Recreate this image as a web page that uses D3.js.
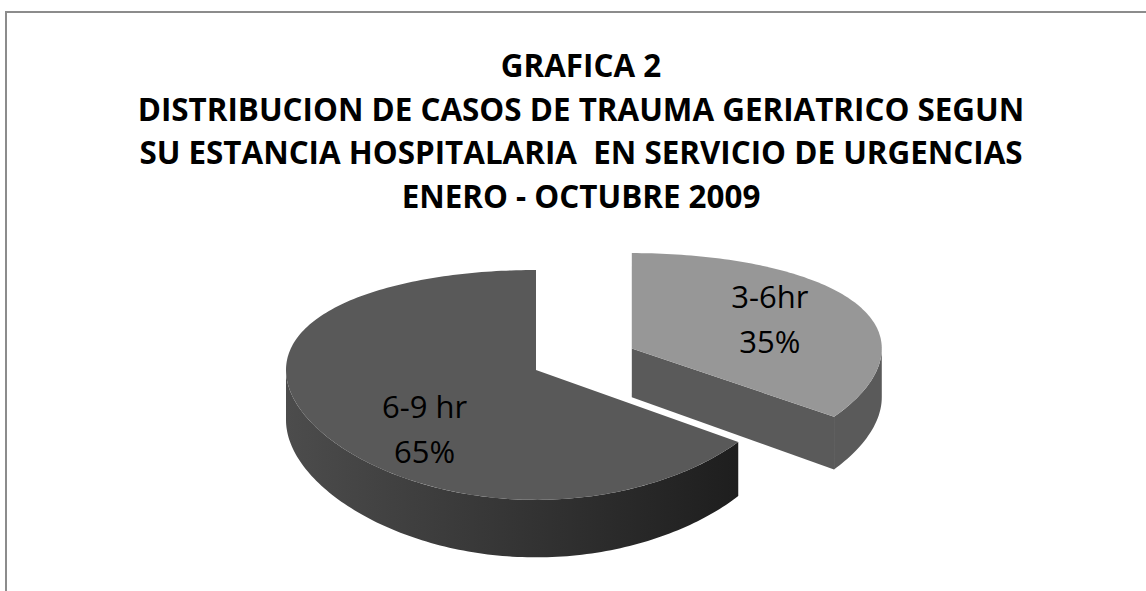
<!DOCTYPE html>
<html>
<head>
<meta charset="utf-8">
<script src="https://cdn.jsdelivr.net/npm/d3@7"></script>
<style>
  html, body { margin: 0; padding: 0; background: #fff; }
  svg { display: block; }
  text { white-space: pre; }
</style>
</head>
<body>
<div id="canvas"><svg></svg></div>
<script>
// chart data
var categories = ["3-6hr", "6-9 hr"];
var values = [35, 65];
var percentLabels = ["35%", "65%"];
var titleLines = [
  "GRAFICA 2",
  "DISTRIBUCION DE CASOS DE TRAUMA GERIATRICO SEGUN",
  "SU ESTANCIA HOSPITALARIA  EN SERVICIO DE URGENCIAS",
  "ENERO - OCTUBRE 2009"
];

var width = 1146, height = 591;
var svg = d3.select("#canvas svg").attr("width", width).attr("height", height);

// frame of the chart area (runs off the right and bottom of the picture)
svg.append("rect")
  .attr("x", 6).attr("y", 12)
  .attr("width", 1200).attr("height", 700)
  .attr("fill", "none")
  .attr("stroke", "#8c8c8c")
  .attr("stroke-width", 2);

// title: scale the bold font so the long second line spans the same width as the original
var title = svg.append("g").attr("font-family", "'Open Sans', sans-serif")
  .attr("font-weight", "bold").attr("fill", "#000").attr("text-anchor", "middle");
var tl = title.selectAll("text").data(titleLines).enter().append("text")
  .attr("x", 581)
  .attr("y", function (d, i) { return 77 + i * 43.5; })
  .attr("font-size", 100)
  .attr("xml:space", "preserve")
  .text(function (d) { return d; });
var refWidth = tl.nodes()[1].getComputedTextLength();
tl.attr("font-size", 100 * 887 / refWidth);

// 3d pie projection (angle 0 = back of the pie, clockwise)
var cx = 536, cy = 370, rx = 250, ry = 113, persp = 0.13, depth = 50;
var explode = [0.43, 0];
var labelRadius = [0.62, 0.5];
var topColors = ["#979797", "#595959"];
var sideColors = ["#5a5a5a", "url(#sideGrad)"];

function proj(u, v, h) {
  var k = 1 - persp * v;
  return [cx + rx * u, cy + ry * v / k + h * depth / k];
}

var defs = svg.append("defs");
var grad = defs.append("linearGradient").attr("id", "sideGrad")
  .attr("gradientUnits", "userSpaceOnUse")
  .attr("x1", cx - rx).attr("x2", cx + rx * 0.8).attr("y1", 0).attr("y2", 0);
grad.append("stop").attr("offset", 0).attr("stop-color", "#4c4c4c");
grad.append("stop").attr("offset", 1).attr("stop-color", "#1e1e1e");

var pie = d3.pie().sort(null).value(function (d) { return d; });
var arcs = pie(values);
var line = d3.line();

arcs.forEach(function (a, i) {
  var mid = (a.startAngle + a.endAngle) / 2;
  a.eu = explode[i] * Math.sin(mid);
  a.ev = -explode[i] * Math.cos(mid);
  a.index = i;
});

function rim(a, t, h, r) {
  r = r == null ? 1 : r;
  return proj(a.eu + r * Math.sin(t), a.ev - r * Math.cos(t), h);
}

function arcPoints(a, t0, t1, h) {
  var n = Math.max(2, Math.ceil((t1 - t0) / 0.02));
  return d3.range(n + 1).map(function (j) { return rim(a, t0 + (t1 - t0) * j / n, h); });
}

var pieG = svg.append("g");

// back slice first (the exploded one sits behind), then the front one
arcs.slice().sort(function (p, q) { return q.eu - p.eu; }).forEach(function (a) {
  var g = pieG.append("g");
  var i = a.index;
  var apexTop = proj(a.eu, a.ev, 0), apexBot = proj(a.eu, a.ev, 1);

  // cut faces that look towards the viewer
  if (Math.sin(a.endAngle) > 0.01) {
    g.append("path")
      .attr("d", line([apexTop, rim(a, a.endAngle, 0), rim(a, a.endAngle, 1), apexBot]) + "Z")
      .attr("fill", "#5a5a5a");
  }
  if (-Math.sin(a.startAngle) > 0.01) {
    g.append("path")
      .attr("d", line([apexTop, rim(a, a.startAngle, 0), rim(a, a.startAngle, 1), apexBot]) + "Z")
      .attr("fill", "#5a5a5a");
  }

  // outer wall: the part between 90 and 270 degrees faces the viewer
  var w0 = Math.max(a.startAngle, Math.PI / 2), w1 = Math.min(a.endAngle, Math.PI * 1.5);
  if (w1 > w0) {
    var pts = arcPoints(a, w0, w1, 0).concat(arcPoints(a, w0, w1, 1).reverse());
    g.append("path").attr("d", line(pts) + "Z").attr("fill", sideColors[i]);
  }

  // top face
  var top = [apexTop].concat(arcPoints(a, a.startAngle, a.endAngle, 0));
  g.append("path").attr("d", line(top) + "Z").attr("fill", topColors[i]);
});

// labels
var labels = svg.append("g").attr("font-family", "'Open Sans', sans-serif")
  .attr("font-size", 31).attr("fill", "#000").attr("text-anchor", "middle");
arcs.forEach(function (a) {
  var i = a.index;
  var mid = (a.startAngle + a.endAngle) / 2;
  var p = rim(a, mid, 0, labelRadius[i]);
  var front = -Math.cos(mid) > 0 ? depth * 0.65 : 0;
  var t = labels.append("text").attr("x", p[0]).attr("y", p[1] + front);
  t.append("tspan").attr("x", p[0]).attr("dy", -11).text(categories[i]);
  t.append("tspan").attr("x", p[0]).attr("dy", 45).text(percentLabels[i]);
});
</script>
</body>
</html>
